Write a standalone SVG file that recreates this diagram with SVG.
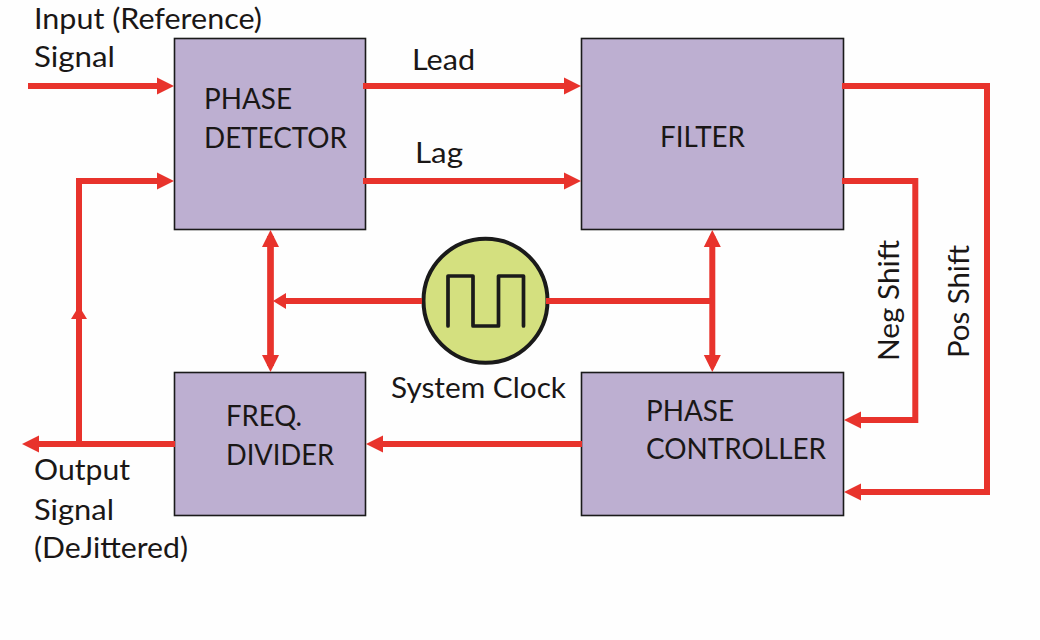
<svg xmlns="http://www.w3.org/2000/svg" width="1040" height="640" viewBox="0 0 1040 640">
<style>
.box{fill:#bdafd1;stroke:#1a1a1a;stroke-width:1.6}
.w{fill:none;stroke:#e8332c;stroke-width:6;stroke-linejoin:miter}
.t{font-family:"Lato","Open Sans",sans-serif;font-size:29px;fill:#1a1716}
</style>
<defs>
<marker id="a" markerUnits="userSpaceOnUse" markerWidth="17" markerHeight="17" refX="11" refY="8.500" orient="auto-start-reverse" overflow="visible"><path d="M0 0L17 8.500L0 17Z" fill="#e8332c"/></marker>
<marker id="b" markerUnits="userSpaceOnUse" markerWidth="13" markerHeight="16" refX="7" refY="8" orient="auto" overflow="visible"><path d="M0 0L13 8L0 16Z" fill="#e8332c"/></marker>
</defs>
<rect width="1040" height="640" fill="#fefefe"/>
<g id="phase-detector"><rect class="box" x="174.500" y="38.500" width="191" height="191"/>
<text class="t" x="204" y="108.500" textLength="88" lengthAdjust="spacingAndGlyphs">PHASE</text>
<text class="t" x="204" y="147.500" textLength="143" lengthAdjust="spacingAndGlyphs">DETECTOR</text></g>
<g id="filter"><rect class="box" x="581.500" y="38.500" width="262" height="191"/>
<text class="t" x="660" y="147" textLength="85" lengthAdjust="spacingAndGlyphs">FILTER</text></g>
<g id="freq-divider"><rect class="box" x="174.500" y="372.500" width="191" height="143"/>
<text class="t" x="226" y="426" textLength="76" lengthAdjust="spacingAndGlyphs">FREQ.</text>
<text class="t" x="226" y="465" textLength="108" lengthAdjust="spacingAndGlyphs">DIVIDER</text></g>
<g id="phase-controller"><rect class="box" x="581.500" y="372.500" width="262" height="143"/>
<text class="t" x="646" y="421" textLength="88" lengthAdjust="spacingAndGlyphs">PHASE</text>
<text class="t" x="646" y="459" textLength="180" lengthAdjust="spacingAndGlyphs">CONTROLLER</text></g>
<g id="system-clock"><circle cx="485.500" cy="300.800" r="62" fill="#d4e07f" stroke="#1a1a1a" stroke-width="4"/>
<path d="M448 326V276H473V326H498.500V276H523.500V326" fill="none" stroke="#1a1a1a" stroke-width="3.700" stroke-linejoin="round" stroke-linecap="round"/>
<text class="t" x="391" y="398" textLength="175" lengthAdjust="spacingAndGlyphs">System Clock</text></g>
<g id="connectors">
<path class="w" d="M28 86H168" marker-end="url(#a)"/>
<path class="w" d="M363 86H575" marker-end="url(#a)"/>
<path class="w" d="M363 181H575" marker-end="url(#a)"/>
<path class="w" d="M79 444V181H168" marker-end="url(#a)"/>
<path class="w" d="M79 325V312" marker-end="url(#b)"/>
<path class="w" d="M175 444H28" marker-end="url(#a)"/>
<path class="w" d="M582 444H372" marker-end="url(#a)"/>
<path class="w" d="M842 86H987V492H850" marker-end="url(#a)"/>
<path class="w" d="M842 181H915.300V420H850" marker-end="url(#a)"/>
<path class="w" d="M270.500 236V366" marker-start="url(#a)" marker-end="url(#a)" style="stroke-width:6.700"/>
<path class="w" d="M712.300 236V366" marker-start="url(#a)" marker-end="url(#a)"/>
<path class="w" d="M422 301H279" marker-end="url(#b)"/>
<path class="w" d="M546 301H712"/>
</g>
<g id="labels">
<text class="t" x="34" y="29" textLength="228" lengthAdjust="spacingAndGlyphs">Input (Reference)</text>
<text class="t" x="34" y="67" textLength="81" lengthAdjust="spacingAndGlyphs">Signal</text>
<text class="t" x="412" y="70" textLength="63" lengthAdjust="spacingAndGlyphs">Lead</text>
<text class="t" x="415" y="163" textLength="48" lengthAdjust="spacingAndGlyphs">Lag</text>
<text class="t" x="34" y="480" textLength="96" lengthAdjust="spacingAndGlyphs">Output</text>
<text class="t" x="34" y="519.500" textLength="80" lengthAdjust="spacingAndGlyphs">Signal</text>
<text class="t" x="34" y="557.500" textLength="154" lengthAdjust="spacingAndGlyphs">(DeJittered)</text>
<text class="t" transform="translate(899 361) rotate(-90)" textLength="121" lengthAdjust="spacingAndGlyphs">Neg Shift</text>
<text class="t" transform="translate(969 358) rotate(-90)" textLength="113" lengthAdjust="spacingAndGlyphs">Pos Shift</text>
</g>
</svg>
